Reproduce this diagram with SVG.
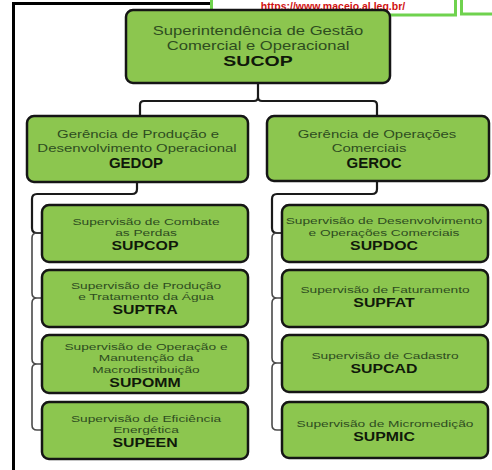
<svg xmlns="http://www.w3.org/2000/svg" width="492" height="470" viewBox="0 0 492 470">
<style>
.box{fill:#8cc64f;stroke:#151515;stroke-width:2.5}
.con{fill:none;stroke:#1a1a1a;stroke-width:2.2}
.br{fill:none;stroke:#4a4a4a;stroke-width:1.6}
text{font-family:"Liberation Sans",Arial,sans-serif;text-anchor:middle}
.t0{font-size:12.5px;fill:#2e4d1f}
.b0{font-size:15px;font-weight:bold;fill:#10190a}
.t1{font-size:11.5px;fill:#2e4d1f}
.b1{font-size:15px;font-weight:bold;fill:#10190a}
.t2{font-size:9.6px;fill:#2e4d1f}
.b2{font-size:12.5px;font-weight:bold;fill:#10190a}
.url{font-size:10.5px;font-weight:bold;fill:#d01010}
</style>
<g id="frame">
<path d="M13.5,470 V3.5 H212" fill="none" stroke="#000" stroke-width="3"/>
</g>
<g id="source">
<rect x="211.5" y="-5" width="244" height="20" fill="#fff" stroke="#6fd24e" stroke-width="3"/>
<rect x="461.5" y="-5" width="40" height="19" fill="#fff" stroke="#6fd24e" stroke-width="3"/>
<text class="url" x="333" y="10">https://www.maceio.al.leg.br/</text>
</g>
<g id="connectors">
<path class="con" d="M140,116 V105 Q140,101 144,101 H254 Q258,101 258,97 V83 M258,97 Q258,101 262,101 H373 Q377,101 377,105 V116"/>
<path class="con" d="M137,182 V189 Q137,194 132,194 H37 Q32,194 32,199 V228 Q32,233 37,233 H42"/>
<path class="br" d="M42,233 H37 Q32,233 32,238 V293 Q32,298 37,298 H42 M42,298 H37 Q32,298 32,303 V359 Q32,364 37,364 H42 M42,364 H37 Q32,364 32,369 V425 Q32,430 37,430 H42"/>
<path class="con" d="M377,181 V189 Q377,194 372,194 H277 Q272,194 272,199 V228 Q272,233 277,233 H282"/>
<path class="br" d="M282,233 H277 Q272,233 272,238 V293 Q272,298 277,298 H282 M282,298 H277 Q272,298 272,303 V358 Q272,363 277,363 H282 M282,363 H277 Q272,363 272,368 V425 Q272,430 277,430 H282"/>
</g>
<g id="SUCOP">
<rect class="box" x="126" y="10" width="264" height="73" rx="7"/>
<text class="t0" transform="translate(258,35) scale(1.33,1)">Superintendência de Gestão</text>
<text class="t0" transform="translate(258,50) scale(1.33,1)">Comercial e Operacional</text>
<text class="b0" transform="translate(258,66) scale(1.3,1)">SUCOP</text>
</g>
<g id="GEDOP">
<rect class="box" x="27" y="116" width="221" height="66" rx="7"/>
<text class="t1" transform="translate(138,138) scale(1.3,1)">Gerência de Produção e</text>
<text class="t1" transform="translate(137,152) scale(1.3,1)">Desenvolvimento Operacional</text>
<text class="b1" transform="translate(136,167.5)">GEDOP</text>
</g>
<g id="GEROC">
<rect class="box" x="267" y="116" width="222" height="65" rx="7"/>
<text class="t1" transform="translate(377,138) scale(1.3,1)">Gerência de Operações</text>
<text class="t1" transform="translate(369,152) scale(1.3,1)">Comerciais</text>
<text class="b1" transform="translate(374,167.5)">GEROC</text>
</g>
<g id="SUPCOP">
<rect class="box" x="42" y="205" width="206" height="57" rx="7"/>
<text class="t2" transform="translate(146,224.5) scale(1.43,1)">Supervisão de Combate</text>
<text class="t2" transform="translate(146,236) scale(1.43,1)">as Perdas</text>
<text class="b2" transform="translate(145,249.5) scale(1.27,1)">SUPCOP</text>
</g>
<g id="SUPTRA">
<rect class="box" x="42" y="270" width="206" height="57" rx="7"/>
<text class="t2" transform="translate(146,288.5) scale(1.43,1)">Supervisão de Produção</text>
<text class="t2" transform="translate(146,300) scale(1.43,1)">e Tratamento da Água</text>
<text class="b2" transform="translate(145,314) scale(1.27,1)">SUPTRA</text>
</g>
<g id="SUPOMM">
<rect class="box" x="42" y="335" width="206" height="58" rx="7"/>
<text class="t2" transform="translate(146,349.5) scale(1.43,1)">Supervisão de Operação e</text>
<text class="t2" transform="translate(146,361) scale(1.43,1)">Manutenção da</text>
<text class="t2" transform="translate(146,372.5) scale(1.43,1)">Macrodistribuição</text>
<text class="b2" transform="translate(145,386.5) scale(1.27,1)">SUPOMM</text>
</g>
<g id="SUPEEN">
<rect class="box" x="42" y="402" width="206" height="57" rx="7"/>
<text class="t2" transform="translate(146,421.5) scale(1.43,1)">Supervisão de Eficiência</text>
<text class="t2" transform="translate(146,433) scale(1.43,1)">Energética</text>
<text class="b2" transform="translate(145,446.5) scale(1.27,1)">SUPEEN</text>
</g>
<g id="SUPDOC">
<rect class="box" x="282" y="205" width="206" height="57" rx="7"/>
<text class="t2" transform="translate(384,224) scale(1.43,1)">Supervisão de Desenvolvimento</text>
<text class="t2" transform="translate(384,235.5) scale(1.43,1)">e Operações Comerciais</text>
<text class="b2" transform="translate(384,249.5) scale(1.27,1)">SUPDOC</text>
</g>
<g id="SUPFAT">
<rect class="box" x="282" y="270" width="206" height="57" rx="7"/>
<text class="t2" transform="translate(385,293) scale(1.43,1)">Supervisão de Faturamento</text>
<text class="b2" transform="translate(384,307) scale(1.27,1)">SUPFAT</text>
</g>
<g id="SUPCAD">
<rect class="box" x="282" y="335" width="206" height="57" rx="7"/>
<text class="t2" transform="translate(385,359) scale(1.43,1)">Supervisão de Cadastro</text>
<text class="b2" transform="translate(384,373) scale(1.27,1)">SUPCAD</text>
</g>
<g id="SUPMIC">
<rect class="box" x="282" y="402" width="206" height="56" rx="7"/>
<text class="t2" transform="translate(385,426.5) scale(1.43,1)">Supervisão de Micromedição</text>
<text class="b2" transform="translate(384,441) scale(1.27,1)">SUPMIC</text>
</g>
</svg>
